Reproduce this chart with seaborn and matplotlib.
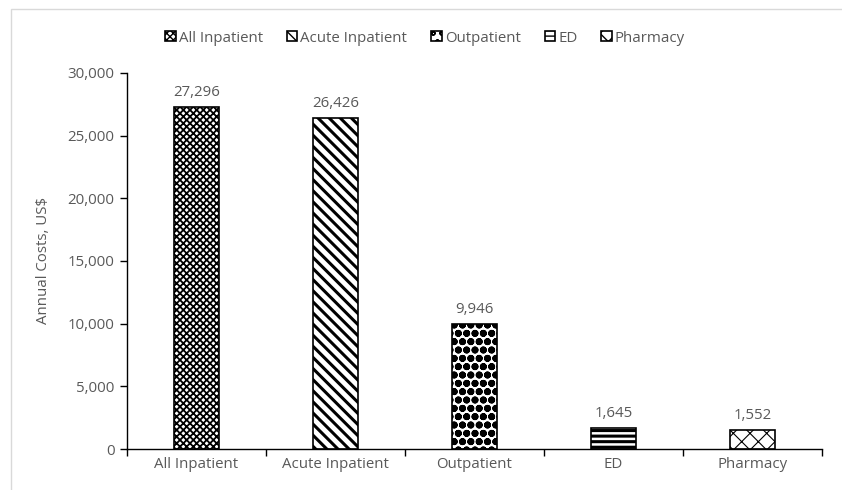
import matplotlib
matplotlib.use("Agg")
import matplotlib.pyplot as plt
import seaborn as sns
import pandas as pd
from matplotlib.patches import Patch, Rectangle
from matplotlib.ticker import FuncFormatter, FixedLocator

categories = ["All Inpatient", "Acute Inpatient", "Outpatient", "ED", "Pharmacy"]
values = [27296, 26426, 9946, 1645, 1552]
labels = ["27,296", "26,426", "9,946", "1,645", "1,552"]
hatches = ["xxxxx", "\\\\\\", "oo", "---", "xx"]
hatch_lw = [1.3, 2.2, 2.6, 2.2, 0.8]

sns.set_theme(style="white")
plt.rcParams["font.family"] = ["Open Sans", "DejaVu Sans"]
plt.rcParams["hatch.color"] = "black"

df = pd.DataFrame({"cat": categories, "val": values})
fig = plt.figure(figsize=(8.42, 4.9), dpi=100)
ax = fig.add_axes([127/842, 1-449/490, (822-127)/842, (449-73)/490])

sns.barplot(data=df, x="cat", y="val", hue="cat", palette=["white"]*5,
            edgecolor="black", linewidth=1.2, width=0.33, legend=False, ax=ax)

for p, h, lw in zip(ax.patches, hatches, hatch_lw):
    p.set_hatch(h)
    if hasattr(p, "set_hatch_linewidth"):
        p.set_hatch_linewidth(lw)

gray = "#595959"
fs = 10.8
for i, (v, t) in enumerate(zip(values, labels)):
    ax.annotate(t, (i, v), xytext=(0, 5), textcoords="offset points",
                ha="center", va="bottom", fontsize=fs, color=gray)

ax.set_ylim(0, 30000)
ax.set_xlim(-0.5, 4.5)
ax.set_yticks(range(0, 30001, 5000))
ax.yaxis.set_major_formatter(FuncFormatter(lambda v, _: f"{int(v):,}"))
ax.set_xlabel("")
ax.set_ylabel("Annual Costs, US$", fontsize=fs, color=gray, labelpad=12)
ax.xaxis.set_minor_locator(FixedLocator([-0.5, 0.5, 1.5, 2.5, 3.5, 4.5]))
ax.tick_params(axis="x", which="major", length=0, labelsize=fs, labelcolor=gray, pad=6)
ax.tick_params(axis="x", which="minor", length=5, width=1, color="black", direction="out", bottom=True)
ax.tick_params(axis="y", which="major", length=5, width=1, color="black", direction="out",
               left=True, labelsize=fs, labelcolor=gray, pad=4)
for s in ["top", "right"]:
    ax.spines[s].set_visible(False)
for s in ["left", "bottom"]:
    ax.spines[s].set_color("black")
    ax.spines[s].set_linewidth(1)

handles = []
for c, h in zip(categories, hatches):
    hp = Patch(facecolor="white", edgecolor="black", hatch=h, linewidth=1.2, label=c)
    handles.append(hp)
leg = fig.legend(handles=handles, loc="center", bbox_to_anchor=(0.505, 1-38/490), ncol=5,
                 frameon=False, fontsize=fs, handlelength=0.7, handleheight=0.7,
                 handletextpad=0.2, columnspacing=1.6)
for t in leg.get_texts():
    t.set_color(gray)

fig.patches.append(Rectangle((11/842, -0.1), 1.2, 1-9/490+0.1, transform=fig.transFigure,
                             fill=False, edgecolor="#d9d9d9", linewidth=1))

fig.savefig("out.png", dpi=100)
